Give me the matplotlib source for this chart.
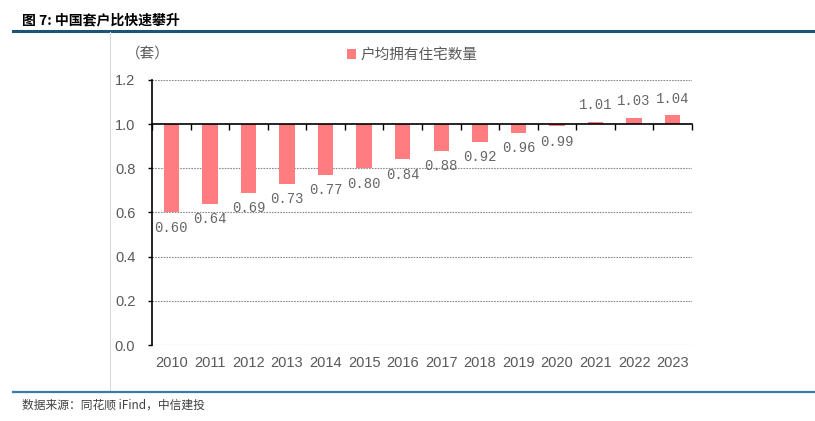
import numpy as np
import matplotlib
matplotlib.use("Agg")
import matplotlib.pyplot as plt
from matplotlib.patches import Patch
from matplotlib.lines import Line2D

plt.rcParams["font.family"] = ["Liberation Sans", "Noto Sans CJK SC", "DejaVu Sans"]

# ── data ──────────────────────────────────────────────────────────────────────
years = ["2010", "2011", "2012", "2013", "2014", "2015", "2016",
         "2017", "2018", "2019", "2020", "2021", "2022", "2023"]
units_per_household = [0.60, 0.64, 0.69, 0.73, 0.77, 0.80, 0.84,
                       0.88, 0.92, 0.96, 0.99, 1.01, 1.03, 1.04]
y_ticks = [0.0, 0.2, 0.4, 0.6, 0.8, 1.0, 1.2]
series_name = "户均拥有住宅数量"
title = "图 7: 中国套户比快速攀升"
unit_label = "（套）"
source = "数据来源：同花顺 iFind，中信建投"

# ── style ─────────────────────────────────────────────────────────────────────
_BAR = "#FF7C80"
_GREY_TXT = "#595959"
_BASE = 1.0
_CJK = ["Noto Sans CJK SC", "DejaVu Sans"]

fig = plt.figure(figsize=(8.15, 4.21), dpi=100)
ax = fig.add_axes([0.1865, 0.1805, 0.6625, 0.6295])

x = np.arange(len(years))
vals = np.array(units_per_household)
ax.bar(x, vals - _BASE, bottom=_BASE, width=0.4, color=_BAR, zorder=3)

# value labels: below for bars hanging down, above for bars going up
for xi, v in zip(x, vals):
    below = v < _BASE
    ax.annotate(f"{v:.2f}", (xi, v), xytext=(0, -6 if below else 7),
                textcoords="offset points", ha="center",
                va="top" if below else "bottom",
                fontsize=10, color="#666666", family="Liberation Mono",
                zorder=5)

# axes
ax.set_xlim(-0.5, len(years) - 0.5)
ax.set_ylim(0, 1.2)
ax.set_yticks(y_ticks)
ax.set_yticklabels([f"{t:.1f}" for t in y_ticks], color=_GREY_TXT, fontsize=10.5)
ax.tick_params(axis="y", length=3, width=1, pad=9)

ax.spines["top"].set_visible(False)
ax.spines["right"].set_visible(False)
ax.spines["left"].set_bounds(0, 1.2)
ax.spines["left"].set_linewidth(1.2)
ax.spines["bottom"].set_position(("data", _BASE))
ax.spines["bottom"].set_linewidth(1.2)
ax.spines["bottom"].set_zorder(4)

ax.set_xticks(np.arange(-0.5, len(years), 1.0))
ax.set_xticklabels([])
ax.tick_params(axis="x", length=4, width=1, direction="out")

for t in y_ticks:
    if t != _BASE:
        ax.axhline(t, color="#8c8c8c", lw=0.8, ls=(0, (1.5, 1)), zorder=1)

for xi, yr in zip(x, years):
    ax.text(xi, -0.05, yr, ha="center", va="top", fontsize=10.5,
            color=_GREY_TXT)

# legend + unit
ax.legend(handles=[Patch(facecolor=_BAR, label=series_name)],
          loc="center", bbox_to_anchor=(0.506, 0.869),
          bbox_transform=fig.transFigure, frameon=False,
          handlelength=0.6, handleheight=0.6, handletextpad=0.3,
          prop={"family": _CJK, "size": 10.5}, labelcolor=_GREY_TXT)
fig.text(0.181, 0.873, unit_label, ha="center", va="center", fontsize=10.5,
         color=_GREY_TXT, family=_CJK)

# page decorations
fig.text(0.027, 0.952, title, ha="left", va="center", fontsize=10,
         fontweight="bold", color="black", family=_CJK)
fig.add_artist(Line2D([0.016, 1.0], [0.926, 0.926], transform=fig.transFigure,
                      color="#1B5478", lw=2.2))
fig.add_artist(Line2D([0.135, 0.135], [0.924, 0.069], transform=fig.transFigure,
                      color="#d9d9d9", lw=0.8))
fig.add_artist(Line2D([0.016, 1.0], [0.069, 0.069], transform=fig.transFigure,
                      color="#3A78B0", lw=1.6))
fig.text(0.027, 0.038, source, ha="left", va="center", fontsize=8.5,
         color="#404040", family=_CJK)

fig.savefig("out.png", dpi=100)
